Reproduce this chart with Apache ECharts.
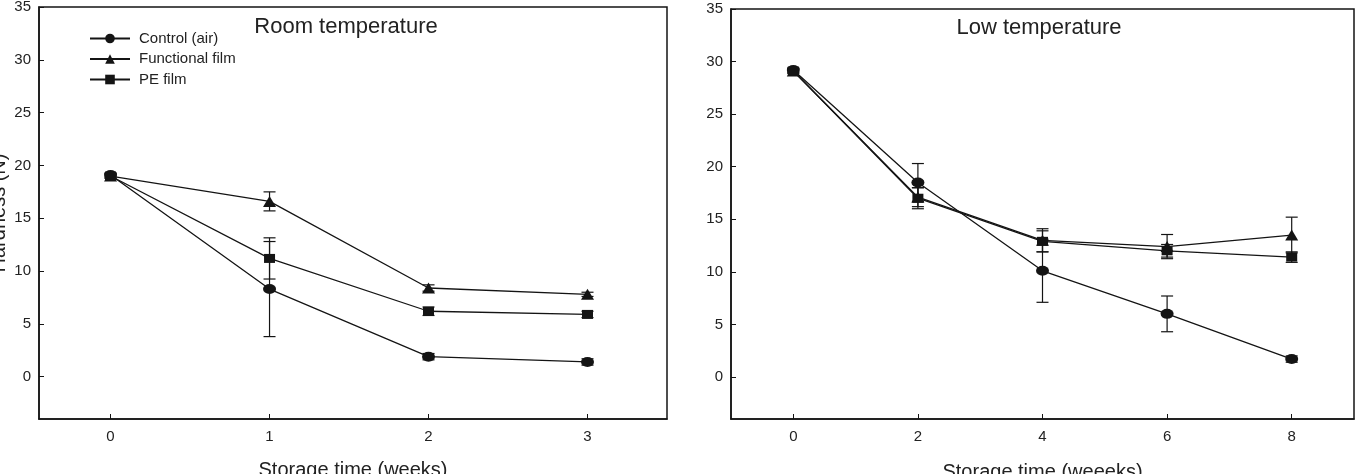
<!DOCTYPE html>
<html>
<head>
<meta charset="utf-8">
<script src="https://cdn.jsdelivr.net/npm/echarts@6/dist/echarts.min.js"></script>
<style>
html, body { margin: 0; padding: 0; background: #fff; }
#chart { width: 1356px; height: 474px; }
</style>
</head>
<body>
<div id="chart"></div>
<script>
// series names / markers
var seriesNames = ['Control (air)', 'Functional film', 'PE film'];
var seriesSymbols = ['circle', 'triangle', 'rect'];

// room temperature panel
var roomWeeks = [0, 1, 2, 3];
var roomControl = [19.1, 8.3, 1.9, 1.4];
var roomControlErr = [0.2, 4.5, 0.3, 0.3];
var roomFunctional = [19.0, 16.6, 8.4, 7.8];
var roomFunctionalErr = [0.2, 0.9, 0.3, 0.2];
var roomPE = [19.0, 11.2, 6.2, 5.9];
var roomPEErr = [0.2, 1.95, 0.4, 0.3];

// low temperature panel
var lowWeeks = [0, 2, 4, 6, 8];
var lowControl = [29.2, 18.5, 10.1, 6.0, 1.7];
var lowControlErr = [0.2, 1.8, 3.0, 1.7, 0.3];
var lowFunctional = [29.1, 17.1, 13.0, 12.4, 13.5];
var lowFunctionalErr = [0.2, 0.9, 1.1, 1.15, 1.7];
var lowPE = [29.1, 17.0, 12.9, 12.0, 11.4];
var lowPEErr = [0.2, 1.0, 1.0, 0.6, 0.5];

// tick labels
var roomTicks = [0, 1, 2, 3];
var lowTicks = [0, 2, 4, 6, 8];
var yTicks = [0, 5, 10, 15, 20, 25, 30, 35];

var ink = '#141414';
var textColor = '#222';
var font = 'Liberation Sans, Arial, sans-serif';
var symbolSizes = [[13, 10], [13, 11], [11, 9]];

var chart = echarts.init(document.getElementById('chart'));

function pairs(xs, ys) {
  return xs.map(function (x, i) { return [x, ys[i]]; });
}
function errPairs(xs, ys, es) {
  return xs.map(function (x, i) { return [x, ys[i] - es[i], ys[i] + es[i]]; });
}

function renderErr(params, api) {
  var x = api.value(0);
  var top = api.coord([x, api.value(2)]);
  var bot = api.coord([x, api.value(1)]);
  var w = 6;
  var st = { stroke: ink, lineWidth: 1.2 };
  return {
    type: 'group',
    children: [
      { type: 'line', shape: { x1: top[0], y1: top[1], x2: bot[0], y2: bot[1] }, style: st },
      { type: 'line', shape: { x1: top[0] - w, y1: top[1], x2: top[0] + w, y2: top[1] }, style: st },
      { type: 'line', shape: { x1: bot[0] - w, y1: bot[1], x2: bot[0] + w, y2: bot[1] }, style: st }
    ]
  };
}

var panels = [
  { weeks: roomWeeks, vals: [roomControl, roomFunctional, roomPE], errs: [roomControlErr, roomFunctionalErr, roomPEErr] },
  { weeks: lowWeeks, vals: [lowControl, lowFunctional, lowPE], errs: [lowControlErr, lowFunctionalErr, lowPEErr] }
];

var series = [];
panels.forEach(function (p, gi) {
  p.vals.forEach(function (v, si) {
    series.push({
      type: 'custom',
      xAxisIndex: gi, yAxisIndex: gi,
      renderItem: renderErr,
      encode: { x: 0, y: [1, 2] },
      data: errPairs(p.weeks, v, p.errs[si]),
      z: 1,
      silent: true
    });
  });
  p.vals.forEach(function (v, si) {
    series.push({
      name: seriesNames[si],
      type: 'line',
      xAxisIndex: gi, yAxisIndex: gi,
      data: pairs(p.weeks, v),
      symbol: seriesSymbols[si],
      symbolSize: symbolSizes[si],
      showAllSymbol: true,
      lineStyle: { color: ink, width: 1.3 },
      itemStyle: { color: ink, borderColor: ink, borderWidth: 0 },
      z: 3
    });
  });
});

function xAxisFor(gi, min, max, ticks, name, gap) {
  return {
    type: 'value', gridIndex: gi, min: min, max: max,
    name: name, nameLocation: 'middle', nameGap: gap,
    nameTextStyle: { fontFamily: font, fontSize: 20, color: textColor },
    axisLine: { show: true, onZero: false, lineStyle: { color: ink, width: 1.5 } },
    axisTick: { show: true, inside: true, length: 5, customValues: ticks, lineStyle: { color: ink } },
    axisLabel: { customValues: ticks, margin: 10, fontFamily: font, fontSize: 15, color: textColor },
    splitLine: { show: false }
  };
}
function yAxisFor(gi, name) {
  return {
    type: 'value', gridIndex: gi, min: -4, max: 35,
    name: name, nameLocation: 'middle', nameGap: 30,
    nameTextStyle: { fontFamily: font, fontSize: 20, color: textColor },
    axisLine: { show: true, onZero: false, lineStyle: { color: ink, width: 1.5 } },
    axisTick: { show: true, inside: true, length: 5, customValues: yTicks, lineStyle: { color: ink } },
    axisLabel: { customValues: yTicks, margin: 8, fontFamily: font, fontSize: 15, color: textColor },
    splitLine: { show: false }
  };
}

var option = {
  backgroundColor: '#fff',
  animation: false,
  textStyle: { fontFamily: font },
  grid: [
    { left: 39, right: 689, top: 7, bottom: 55, show: true, borderColor: ink, borderWidth: 1.5, containLabel: false, outerBoundsMode: 'none' },
    { left: 731, right: 2, top: 9, bottom: 55, show: true, borderColor: ink, borderWidth: 1.5, containLabel: false, outerBoundsMode: 'none' }
  ],
  xAxis: [
    xAxisFor(0, -0.45, 3.5, roomTicks, 'Storage time (weeks)', 41),
    xAxisFor(1, -1, 9, lowTicks, 'Storage time (weeeks)', 43)
  ],
  yAxis: [
    yAxisFor(0, 'Hardness (N)'),
    yAxisFor(1, '')
  ],
  legend: {
    data: seriesNames,
    orient: 'vertical',
    left: 89, top: 31,
    padding: 0,
    itemWidth: 40, itemHeight: 12, itemGap: 5.5,
    textStyle: { fontFamily: font, fontSize: 15, color: textColor, padding: [0, 0, 0, 4] }
  },
  graphic: [
    { type: 'text', x: 346, y: 27, style: { text: 'Room temperature', font: '22px ' + font, fill: textColor, align: 'center', verticalAlign: 'middle' } },
    { type: 'text', x: 1039, y: 28, style: { text: 'Low temperature', font: '22px ' + font, fill: textColor, align: 'center', verticalAlign: 'middle' } }
  ],
  series: series
};

chart.setOption(option);
</script>
</body>
</html>
